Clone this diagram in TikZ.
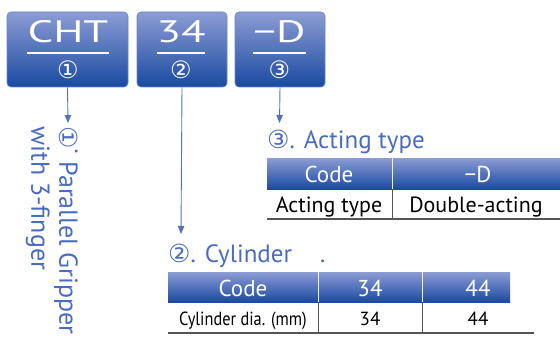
\documentclass[tikz,border=0pt]{standalone}
\usepackage{fontspec}
\setmainfont{PT Sans}
\newfontfamily\circfont{DejaVu Sans}
\usetikzlibrary{arrows.meta,calc}

\definecolor{bandtop}{HTML}{8C9CD4}
\definecolor{bandbot}{HTML}{1A4AA2}
\definecolor{edgeblue}{HTML}{6A84C6}
\definecolor{arrowblue}{HTML}{5472BC}
\definecolor{headblue}{HTML}{4A6CC0}
\definecolor{rulegray}{HTML}{555555}

\tikzset{
  codebox/.style={rounded corners=4pt, draw=edgeblue, line width=0.6pt,
    top color=bandtop, bottom color=bandbot, minimum width=120pt,
    minimum height=75pt, inner sep=0pt},
  codetext/.style={text=white, font=\fontsize{31}{31}\selectfont,
    inner sep=0pt, anchor=base, xscale=1.45},
  circnum/.style={text=white, font=\circfont\fontsize{24}{24}\selectfont,
    inner sep=0pt},
  uline/.style={white, line width=1.1pt},
  arr/.style={arrowblue, line width=0.9pt,
    -{Triangle[length=8pt,width=6.5pt]}},
  headtext/.style={text=headblue, font=\fontsize{25}{25}\selectfont,
    anchor=base west, inner sep=0pt},
  band/.style={top color=bandtop, bottom color=bandbot, draw=none},
  hcell/.style={text=white, font=\fontsize{23}{23}\selectfont, inner sep=0pt,
    anchor=base},
  bcell/.style={text=black, font=\fontsize{22}{22}\selectfont, inner sep=0pt,
    anchor=base},
  smallcell/.style={bcell, font=\fontsize{19}{19}\selectfont},
  hsep/.style={white!85!bandtop, line width=0.8pt},
  bsep/.style={rulegray, line width=0.9pt},
  bottomrule/.style={rulegray, line width=1.3pt},
}
\newcommand{\circled}[1]{{\circfont\fontsize{25}{25}\selectfont #1}}

\begin{document}
\begin{tikzpicture}[x=1pt,y=-1pt]
\useasboundingbox (0,0) rectangle (560,345);

% --- code boxes -------------------------------------------------------
\node[codebox, minimum width=121pt] (boxA) at (67.5,49.5) {};
\node[codebox, minimum width=90pt]  (boxB) at (182,49.5) {};
\node[codebox, minimum width=90pt]  (boxC) at (280,49.5) {};

\node[codetext] (tA) at (68,43) {CHT};
\node[codetext] (tB) at (181,43) {34};
\node[codetext] (tC) at (279.5,43) {−D};

\draw[uline] (27,53) -- (109,53);
\draw[uline] (157,53) -- (205,53);
\draw[uline] (253,53) -- (306,53);

\node[circnum] (nA) at (68,70) {①};
\node[circnum] (nB) at (181,70) {②};
\node[circnum] (nC) at (279.5,70) {③};

% --- arrows -----------------------------------------------------------
\coordinate (endA) at (68,123);
\coordinate (endB) at (181,234);
\coordinate (endC) at (279.5,123);
\draw[arr] (boxA.south) -- (endA);
\draw[arr] (boxB.south) -- (endB);
\draw[arr] (boxC.south) -- (endC);

% --- vertical label for item 1 ---------------------------------------
\node[text=headblue, font=\fontsize{26}{28}\selectfont, rotate=-90,
  anchor=north west, inner sep=0pt, align=left] (lab1) at (78,126)
  {\circled{①}˙ Parallel Gripper\\with 3-finger};

% --- table 3: acting type --------------------------------------------
\node[headtext] (h3) at (267,148) {\circled{③}. Acting type};
\shade[band] (267,158) rectangle (560,189);
\draw[hsep] (392,158) -- (392,189);
\draw[bsep] (392,189) -- (392,219);
\draw[bottomrule] (267,219) -- (560,219);
\node[hcell] (c3a) at (329,182) {Code};
\node[hcell] (c3b) at (478,182) {−D};
\node[bcell] (b3a) at (329,212) {Acting type};
\node[bcell] (b3b) at (476,212) {Double-acting};

% --- table 2: cylinder -----------------------------------------------
\node[headtext] (h2) at (168,262) {\circled{②}. Cylinder\hspace{28pt}.};
\shade[band] (168,272) rectangle (510,302);
\draw[hsep] (318,272) -- (318,302);
\draw[hsep] (422,272) -- (422,302);
\draw[bsep] (318,302) -- (318,333);
\draw[bsep] (422,302) -- (422,333);
\draw[bottomrule] (168,333) -- (534,333);
\node[hcell] (c2a) at (243,296) {Code};
\node[hcell] (c2b) at (370,296) {34};
\node[hcell] (c2c) at (478,296) {44};
\node[smallcell, xscale=0.86] (b2a) at (243,325) {Cylinder dia. (mm)};
\node[smallcell] (b2b) at (370,325) {34};
\node[smallcell] (b2c) at (478,325) {44};
\end{tikzpicture}
\end{document}
